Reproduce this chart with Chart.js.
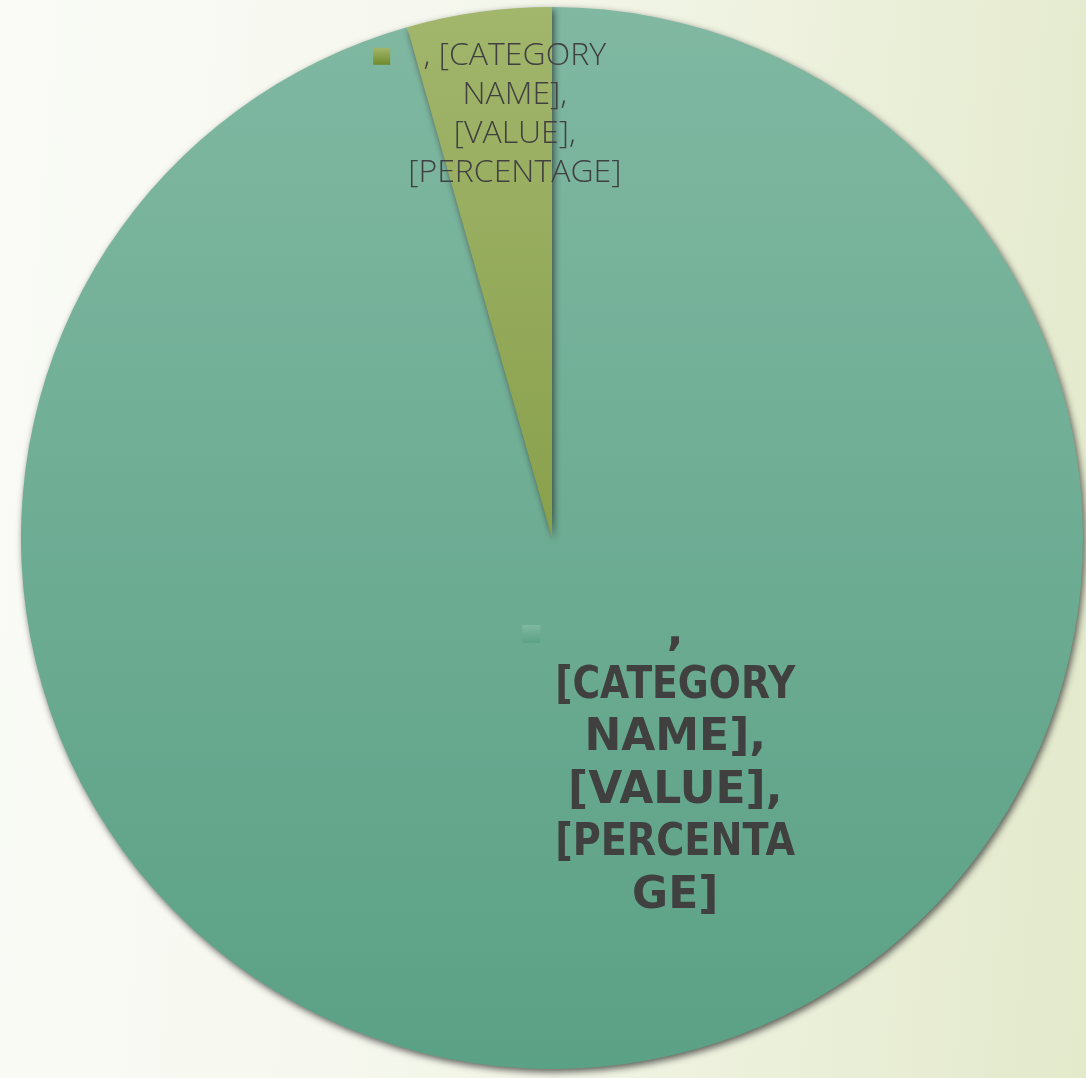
<!DOCTYPE html>
<html>
<head>
<meta charset="utf-8">
<script src="https://cdn.jsdelivr.net/npm/chart.js@4"></script>
<style>
  html, body { margin: 0; padding: 0; }
  body {
    width: 1086px; height: 1078px; overflow: hidden;
    background: linear-gradient(95deg, #fafbf6 0%, #f6f8ef 35%, #eef2df 65%, #e3e9cb 100%);
  }
  #wrap { position: relative; width: 1086px; height: 1078px; }
</style>
</head>
<body>
<div id="wrap"><canvas id="pie"></canvas></div>
<script>
// chart data
const categories = ["", ""];
const values = [95.6, 4.4];
const labelLines = [
    [",", "[CATEGORY", "NAME],", "[VALUE],", "[PERCENTA", "GE]"],
    [", [CATEGORY", "NAME],", "[VALUE],", "[PERCENTAGE]"]
];

// colours: top -> bottom of the pie
const sliceTop = ["#80b8a2", "#a2b66c"];
const sliceBottom = ["#5ba186", "#6f8a2c"];

// where each label block sits, as fraction of the radius from the centre
const labelStyle = [
    { ax: 0.232, ay: 0.428, font: "bold 44px 'DejaVu Sans'", lineH: 52.5, maxW: 240, key: 18, gap: 15 },
    { ax: -0.07, ay: -0.797, font: "300 32px 'Open Sans'", lineH: 39, maxW: 220, key: 17, gap: 18 }
];

const graphCanvas = document.getElementById("pie");
const graphContext = graphCanvas.getContext("2d");

function sliceGradient(context) {
    const chart = context.chart;
    const area = chart.chartArea;
    if (!area) return sliceTop[context.dataIndex];
    const g = chart.ctx.createLinearGradient(0, area.top, 0, area.bottom);
    g.addColorStop(0, sliceTop[context.dataIndex]);
    g.addColorStop(1, sliceBottom[context.dataIndex]);
    return g;
}

const shadowPlugin = {
    id: "pieShadow",
    beforeDatasetDraw(chart) {
        const ctx = chart.ctx;
        ctx.save();
        ctx.shadowColor = "rgba(30, 30, 30, 0.7)";
        ctx.shadowBlur = 7;
        ctx.shadowOffsetX = 2;
        ctx.shadowOffsetY = 3;
    },
    afterDatasetDraw(chart) {
        chart.ctx.restore();
    }
};

const labelPlugin = {
    id: "sliceLabels",
    afterDatasetsDraw(chart) {
        const ctx = chart.ctx;
        const arcs = chart.getDatasetMeta(0).data;
        arcs.forEach((arc, i) => {
            const st = labelStyle[i];
            const lines = labelLines[i];
            const cx = arc.x + arc.outerRadius * st.ax;
            const cy = arc.y + arc.outerRadius * st.ay;
            const top = cy - (lines.length - 1) * st.lineH / 2;

            ctx.save();
            ctx.font = st.font;
            ctx.fillStyle = "#404040";
            ctx.textAlign = "center";
            ctx.textBaseline = "middle";
            let widest = 0;
            lines.forEach(l => { widest = Math.max(widest, Math.min(ctx.measureText(l).width, st.maxW)); });
            lines.forEach((l, k) => {
                ctx.fillText(l, cx, top + k * st.lineH, st.maxW);
            });

            // legend key square
            const kx = cx - widest / 2 - st.gap - st.key;
            const ky = top - st.key / 2;
            const g = ctx.createLinearGradient(0, ky, 0, ky + st.key);
            g.addColorStop(0, sliceTop[i]);
            g.addColorStop(1, sliceBottom[i]);
            ctx.fillStyle = g;
            ctx.fillRect(kx, ky, st.key, st.key);
            ctx.restore();
        });
    }
};

new Chart(graphContext, {
    type: "pie",
    data: {
        labels: categories,
        datasets: [{
            data: values,
            backgroundColor: sliceGradient,
            borderWidth: 0
        }]
    },
    options: {
        responsive: true,
        maintainAspectRatio: false,
        animation: false,
        layout: { padding: { left: 21, right: 3, top: 7, bottom: 9 } },
        plugins: {
            legend: { display: false },
            tooltip: { enabled: false }
        }
    },
    plugins: [shadowPlugin, labelPlugin]
});
</script>
</body>
</html>
